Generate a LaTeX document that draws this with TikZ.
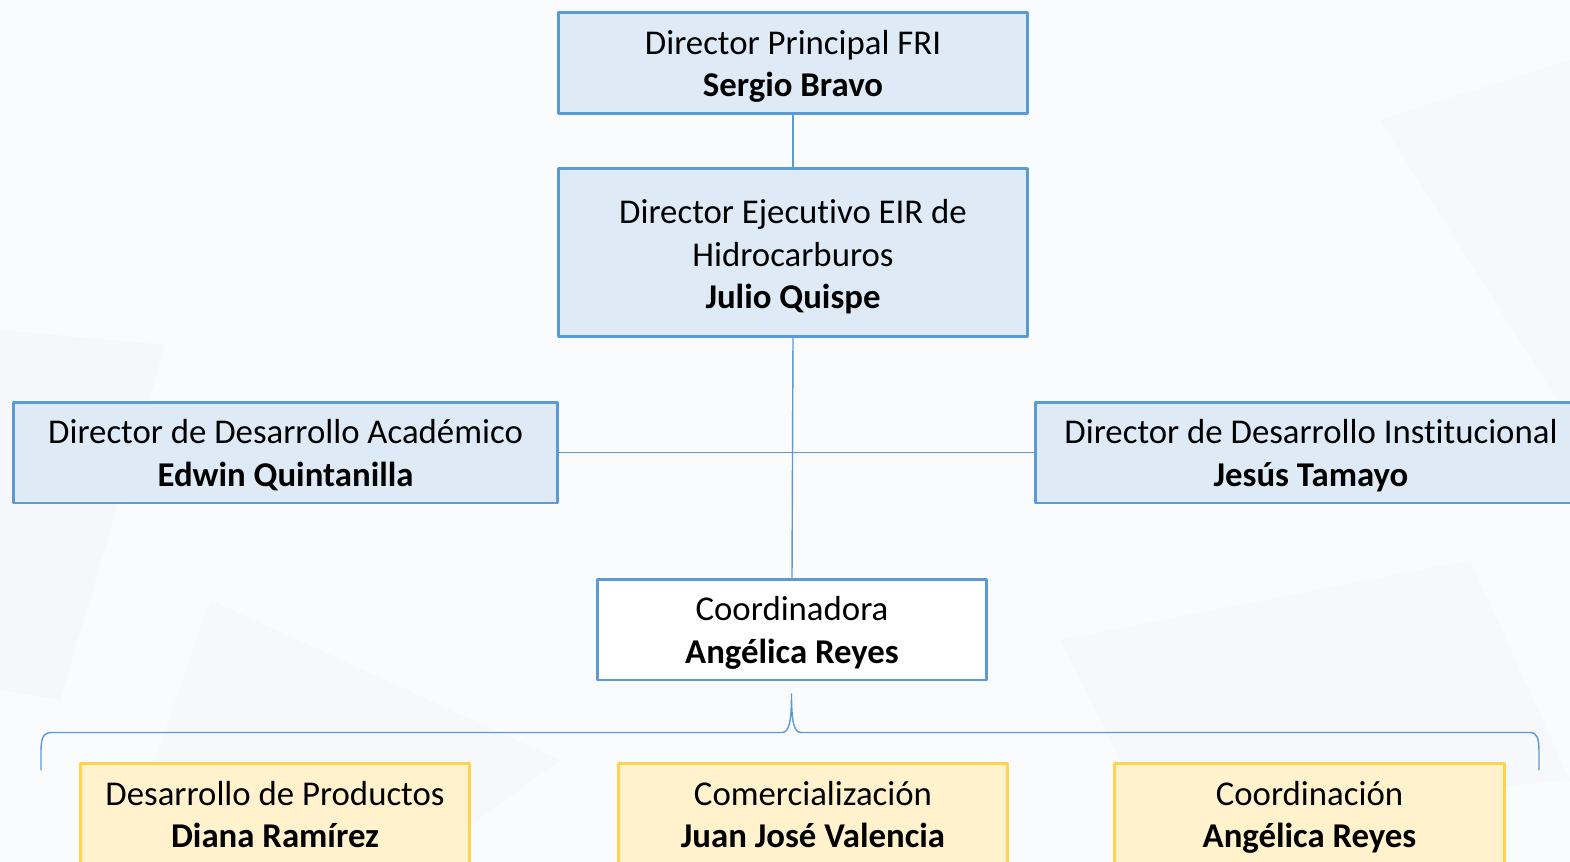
\documentclass[tikz,border=0pt]{standalone}
\usepackage{fontspec}
\setmainfont{Carlito}[Ligatures=NoCommon]
\usetikzlibrary{positioning}
\definecolor{box_blue}{HTML}{DEEBF7}
\definecolor{line_blue}{HTML}{5B9BD5}
\definecolor{box_yellow}{HTML}{FFF2CC}
\definecolor{line_gold}{HTML}{FFD34F}
\definecolor{back_grey}{HTML}{FAFBFD}
\definecolor{shade_grey}{HTML}{EEF0F5}
\tikzset{
	orgbox/.style={draw=line_blue,line width=1.7pt,fill=box_blue,align=center,inner sep=0pt,
		font=\fontsize{19.8}{24.2}\selectfont,
		execute at end node=\rule[-9pt]{0pt}{56.4pt}},
	threelines/.style={execute at end node=\rule[-10pt]{0pt}{84.3pt}},
	teambox/.style={orgbox,draw=line_gold,fill=box_yellow,minimum width=7.8cm,minimum height=2.04cm},
	link/.style={draw=line_blue,line width=0.8pt}
}

\begin{document}
\begin{tikzpicture}[x=0.02cm,y=-0.02cm,line join=round,line cap=round]
	\useasboundingbox (0,0) rectangle (1570,862);
	\clip (0,0) rectangle (1570,862);
	\fill[back_grey] (0,0) rectangle (1570,862);
	% faint background shapes
	\fill[shade_grey,opacity=0.35] (0,330) -- (165,345) -- (60,700) -- (0,690) -- cycle;
	\fill[shade_grey,opacity=0.25] (210,600) -- (560,760) -- (420,862) -- (120,862) -- cycle;
	\fill[shade_grey,opacity=0.25] (1380,120) -- (1570,60) -- (1570,420) -- cycle;
	\fill[shade_grey,opacity=0.2] (1060,640) -- (1470,560) -- (1570,780) -- (1150,820) -- cycle;

	% boxes
	\node[orgbox,minimum width=9.4cm,minimum height=2.04cm] (fri) at (793,63)
		{Director Principal FRI\\\textbf{Sergio Bravo}};
	\node[orgbox,threelines,minimum width=9.4cm,minimum height=3.38cm] (eir) at (793,252.5)
		{Director Ejecutivo EIR de\\Hidrocarburos\\\textbf{Julio Quispe}};
	\node[orgbox,minimum width=10.9cm,minimum height=2.02cm] (acad) at (285.5,452.5)
		{Director de Desarrollo Académico\\\textbf{Edwin Quintanilla}};
	\node[orgbox,minimum width=11.04cm,minimum height=2.02cm] (inst) at (1311,452.5)
		{Director de Desarrollo Institucional\\\textbf{Jesús Tamayo}};
	\node[orgbox,fill=white,minimum width=7.8cm,minimum height=2.02cm] (coord) at (792,629.5)
		{Coordinadora\\\textbf{Angélica Reyes}};
	\node[teambox] (prod) at (275,814) {Desarrollo de Productos\\\textbf{Diana Ramírez}};
	\node[teambox] (com)  at (813,814) {Comercialización\\\textbf{Juan José Valencia}};
	\node[teambox] (coo)  at (1309.5,814) {Coordinación\\\textbf{Angélica Reyes}};

	% connectors
	\draw[link] (fri.south) -- (eir.north);
	\draw[link] (eir.south) -- (coord.north);
	\draw[link] (acad.east) -- (inst.west);

	% brace over the teams
	\coordinate (tip) at (791.5,694);
	\draw[link] (41,770) -- (41,752) .. controls (41,738) and (43,732.5) .. (52,732.5)
		-- (782,732.5) .. controls (789,732.5) and (791.5,722) .. (tip)
		.. controls (791.5,722) and (794,732.5) .. (801,732.5)
		-- (1530,732.5) .. controls (1537,732.5) and (1539,738) .. (1539,752) -- (1539,770);
\end{tikzpicture}
\end{document}
